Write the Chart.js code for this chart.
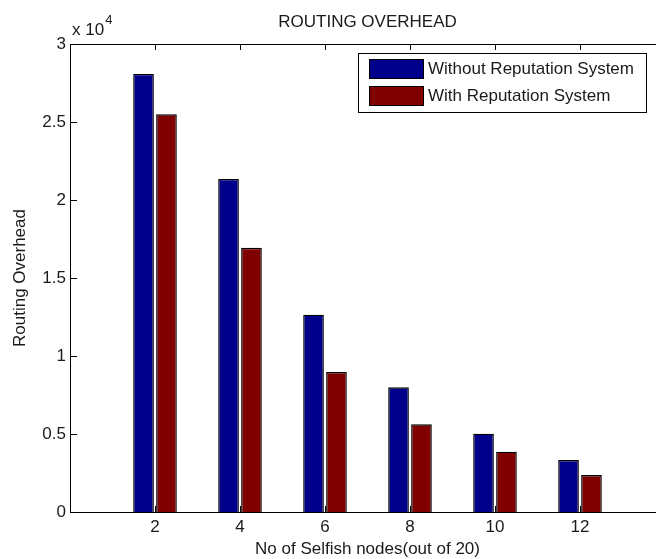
<!DOCTYPE html>
<html>
<head>
<meta charset="utf-8">
<script src="https://cdn.jsdelivr.net/npm/chart.js@4/dist/chart.umd.min.js"></script>
<style>
  html, body { margin: 0; padding: 0; background: #fff; overflow: hidden; }
  canvas { display: block; }
</style>
</head>
<body>
<canvas id="c" width="680" height="559"></canvas>
<script>
// Number of selfish nodes (out of 20)
const nodeCounts = [2, 4, 6, 8, 10, 12];
// Routing overhead per scenario
const withoutReputation = [28080, 21350, 12650, 7990, 5020, 3330];
const withReputation    = [25490, 16940, 8970, 5620, 3870, 2370];
// Y tick labels are shown in units of 10^4
const yTickValues = [0, 5000, 10000, 15000, 20000, 25000, 30000];

const FONT = "'Liberation Sans', Arial, Helvetica, sans-serif";
const TEXT = '#1a1a1a';

// Empty slots at 0 and 14 give the axis its [0, 14] span
const labels = ['', ...nodeCounts.map(String), ''];
const pad = arr => [null, ...arr, null];

const frame = {
  id: 'frame',
  afterDraw(chart) {
    const ctx = chart.ctx;
    const { left, top, right, bottom } = chart.chartArea;
    const xs = chart.scales.x, ys = chart.scales.y;
    ctx.save();
    ctx.strokeStyle = '#000';
    ctx.lineWidth = 1;
    ctx.strokeRect(Math.round(left) + 0.5, Math.round(top) + 0.5,
                   Math.round(right - left), Math.round(bottom - top));
    // inward tick marks
    ctx.beginPath();
    for (let i = 1; i <= nodeCounts.length; i++) {
      const px = Math.round(xs.getPixelForValue(i)) + 0.5;
      ctx.moveTo(px, top); ctx.lineTo(px, top + 6);
      ctx.moveTo(px, bottom); ctx.lineTo(px, bottom - 6);
    }
    yTickValues.forEach(v => {
      const py = Math.round(ys.getPixelForValue(v)) + 0.5;
      ctx.moveTo(left, py); ctx.lineTo(left + 7, py);
      ctx.moveTo(right, py); ctx.lineTo(right - 7, py);
    });
    ctx.stroke();

    ctx.fillStyle = TEXT;
    const cx = (left + right) / 2;
    // title
    ctx.font = '17px ' + FONT;
    ctx.textAlign = 'center';
    ctx.textBaseline = 'middle';
    ctx.fillText('ROUTING OVERHEAD', cx, 22);
    // x axis title
    ctx.fillText('No of Selfish nodes(out of 20)', cx, 549);
    // y axis title
    ctx.save();
    ctx.translate(20, (top + bottom) / 2);
    ctx.rotate(-Math.PI / 2);
    ctx.fillText('Routing Overhead', 0, 0);
    ctx.restore();
    // exponent marker
    ctx.textAlign = 'left';
    ctx.textBaseline = 'alphabetic';
    ctx.font = '17px ' + FONT;
    ctx.fillText('x 10', left + 2, 35);
    const w = ctx.measureText('x 10').width;
    ctx.font = '13px ' + FONT;
    ctx.fillText('4', left + 3 + w, 24);

    // legend
    const lx = 358, ly = 53, lw = 288, lh = 59;
    ctx.fillStyle = '#fff';
    ctx.fillRect(lx, ly, lw, lh);
    ctx.strokeStyle = '#000';
    ctx.strokeRect(lx + 0.5, ly + 0.5, lw, lh);
    chart.data.datasets.forEach((ds, i) => {
      const y0 = ly + 6 + i * 27;
      ctx.fillStyle = ds.backgroundColor;
      ctx.fillRect(369, y0, 54, 20);
      ctx.strokeStyle = '#000';
      ctx.strokeRect(369.5, y0 + 0.5, 54, 19);
      ctx.fillStyle = TEXT;
      ctx.font = '17px ' + FONT;
      ctx.textBaseline = 'middle';
      ctx.fillText(ds.label, 428, y0 + 10);
    });
    ctx.restore();
  }
};

new Chart(document.getElementById('c'), {
  type: 'bar',
  data: {
    labels,
    datasets: [
      { label: 'Without Reputation System', data: pad(withoutReputation),
        backgroundColor: '#00008b', borderColor: '#000', borderWidth: 1.4 },
      { label: 'With Reputation System', data: pad(withReputation),
        backgroundColor: '#800000', borderColor: '#000', borderWidth: 1.4 }
    ]
  },
  options: {
    responsive: false,
    animation: false,
    events: [],
    layout: { padding: { left: 0, top: 44, right: 15, bottom: 0 } },
    datasets: { bar: { categoryPercentage: 0.54, barPercentage: 0.9 } },
    plugins: { legend: { display: false }, tooltip: { enabled: false } },
    scales: {
      x: {
        offset: false,
        grid: { display: false, drawTicks: false },
        border: { display: true, color: '#000' },
        ticks: { color: TEXT, font: { family: FONT, size: 17 }, padding: 5,
                 autoSkip: false, maxRotation: 0 },
        afterFit(s) { s.height = 47; }
      },
      y: {
        min: 0, max: 30000,
        grid: { display: false, drawTicks: false },
        border: { display: true, color: '#000' },
        ticks: { stepSize: 5000, color: TEXT, font: { family: FONT, size: 17 },
                 padding: 4, callback: v => String(v / 10000) },
        afterFit(s) { s.width = 70; }
      }
    }
  },
  plugins: [frame]
});
</script>
</body>
</html>
